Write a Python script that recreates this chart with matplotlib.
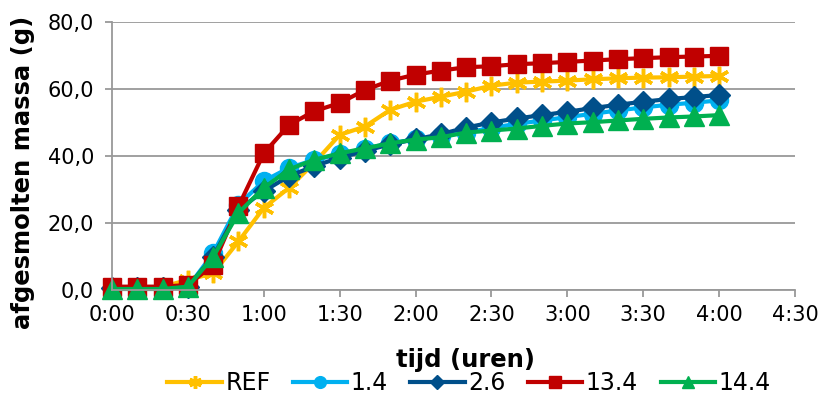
import matplotlib
matplotlib.use("Agg")
import matplotlib.pyplot as plt
from matplotlib.ticker import FuncFormatter, MultipleLocator

# tijd in minuten, elke 10 minuten gemeten
tijd = list(range(0, 250, 10))

ref = [0.5, 0.5, 1.0, 3.0, 5.0, 14.5, 24.5, 30.5, 38.0, 46.3, 48.8, 53.8, 56.2,
       57.7, 59.2, 61.0, 61.9, 62.2, 62.5, 62.9, 63.2, 63.4, 63.5, 63.7, 63.9]
m14 = [0.5, 0.5, 0.5, 0.8, 11.0, 25.5, 32.5, 36.5, 38.8, 40.5, 42.2, 43.8, 45.0,
       46.0, 47.0, 48.4, 49.6, 50.6, 51.6, 52.6, 53.6, 54.5, 55.3, 55.9, 56.6]
m26 = [0.5, 0.5, 0.5, 1.0, 10.0, 24.0, 29.5, 34.0, 37.0, 39.5, 41.5, 43.5, 45.0,
       46.5, 48.5, 50.0, 51.2, 52.2, 53.2, 54.3, 55.3, 56.2, 57.0, 57.6, 58.2]
m134 = [1.0, 1.0, 1.0, 1.5, 7.5, 25.0, 40.8, 49.3, 53.4, 55.8, 59.7, 62.5, 64.3,
        65.5, 66.5, 66.8, 67.4, 67.7, 68.1, 68.5, 68.9, 69.2, 69.5, 69.7, 69.9]
m144 = [0.3, 0.3, 0.3, 1.0, 9.9, 23.0, 30.5, 36.0, 38.9, 40.8, 42.3, 43.8, 44.9,
        45.6, 47.0, 47.6, 48.2, 49.0, 49.7, 50.1, 50.6, 51.1, 51.5, 51.8, 52.2]

fig = plt.figure(figsize=(8.19, 3.94), dpi=100)
ax = fig.add_axes([112/819, 1-290/394, (795-112)/819, (290-22)/394])

ax.plot(tijd, ref, color="#FFC000", lw=3, marker=(6, 2, 0), ms=14, mew=2.5, label="REF")
ax.plot(tijd, m14, color="#00B0F0", lw=3, marker="o", ms=13, label="1.4")
ax.plot(tijd, m26, color="#004F8A", lw=3, marker="D", ms=11.5, label="2.6")
ax.plot(tijd, m134, color="#C00000", lw=3, marker="s", ms=13, label="13.4")
ax.plot(tijd, m144, color="#00B050", lw=3, marker="^", ms=14, label="14.4")

ax.set_xlim(0, 270)
ax.set_ylim(0, 80)
ax.xaxis.set_major_locator(MultipleLocator(30))
ax.yaxis.set_major_locator(MultipleLocator(20))
ax.xaxis.set_major_formatter(FuncFormatter(lambda v, p: "%d:%02d" % (v // 60, v % 60)))
ax.yaxis.set_major_formatter(FuncFormatter(lambda v, p: ("%.1f" % v).replace(".", ",")))

ax.grid(axis="y", color="#999999", lw=1.3)
ax.set_axisbelow(True)
for s in ["top", "right"]:
    ax.spines[s].set_visible(False)
for s in ["left", "bottom"]:
    ax.spines[s].set_color("#999999")
    ax.spines[s].set_linewidth(1.3)
ax.tick_params(axis="both", colors="#999999", width=1.3, length=5, labelsize=15,
               labelcolor="black")
ax.tick_params(axis="y", pad=8)
ax.tick_params(axis="x", pad=6)

for line in ax.lines:
    line.set_clip_on(False)

fig.text(23/819, 1-172/394, "afgesmolten massa (g)", rotation=90, ha="center",
         va="center", fontsize=17.5, fontweight="bold")
fig.text(466/819, 1-360/394, "tijd (uren)", ha="center", va="center",
         fontsize=17.5, fontweight="bold")

fig.legend(loc="center", bbox_to_anchor=(469/819, 1-383/394), ncol=5, frameon=False,
           fontsize=17, handlelength=2.3, columnspacing=0.95, handletextpad=0.15,
           markerscale=0.65, borderaxespad=0, borderpad=0)

fig.savefig("out.png", dpi=100)
